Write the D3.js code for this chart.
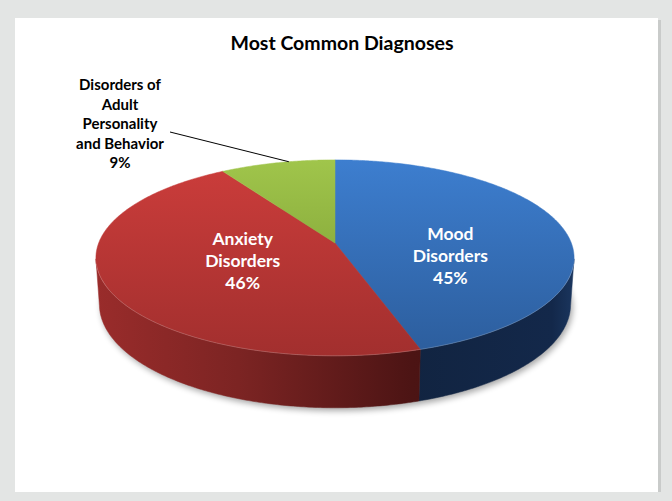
<!DOCTYPE html>
<html>
<head>
<meta charset="utf-8">
<script src="https://cdn.jsdelivr.net/npm/d3@7/dist/d3.min.js"></script>
<style>
  html, body { margin: 0; padding: 0; background: #e3e5e4; }
  svg { display: block; }
  text { font-family: Lato, "Open Sans", sans-serif; font-weight: bold; }
</style>
</head>
<body>
<svg id="chart" width="672" height="501"></svg>
<script>
// ---- data ----
const chartTitle = "Most Common Diagnoses";
const categories = ["Mood Disorders", "Anxiety Disorders", "Disorders of Adult Personality and Behavior"];
const values = [45, 46, 9];
const labelLines = [["Mood", "Disorders"], ["Anxiety", "Disorders"], ["Disorders of", "Adult", "Personality", "and Behavior"]];

// ---- styles ----
const topColors = [["#3d7ecf", "#2c5d9c"], ["#cc3d3b", "#a22f2e"], ["#a0c54b", "#74952f"]];
const sideColors = [
  [[0, "#173055"], [0.6, "#11233f"], [0.95, "#13284a"], [1, "#1b3760"]],
  [[0, "#9a2c2b"], [0.3, "#7c2423"], [0.66, "#4c1414"], [1, "#3e1010"]],
  [[0, "#6f8c2c"], [0.6, "#55701f"], [1, "#45601a"]]
];

// ---- layout ----
const W = 672, H = 501;
const panel = { x: 15, y: 18, w: 643, h: 474 };
// perspective camera for the disc (unit radius)
const cam = { cx: 335, cy: 243, f: 1425, dist: 6.03, tilt: 0.417, thick: 0.215 };
const cosT = Math.cos(cam.tilt), sinT = Math.sin(cam.tilt);

function project(x, h, z) {
  const v = z * sinT - h * cosT;
  const d = cam.dist - (z * cosT + h * sinT);
  return [cam.cx + cam.f * x / d, cam.cy + cam.f * v / d];
}
// angle measured clockwise from 12 o'clock (far side)
function rim(a, r, h) { return project(r * Math.sin(a), h, -r * Math.cos(a)); }
function arcPts(a0, a1, r, h) {
  const n = Math.max(2, Math.ceil(Math.abs(a1 - a0) / 0.01));
  return d3.range(n + 1).map(i => rim(a0 + (a1 - a0) * i / n, r, h));
}

const svg = d3.select("#chart");
const defs = svg.append("defs");

svg.append("rect").attr("width", W).attr("height", H).attr("fill", "#e3e5e4");
svg.append("rect").attr("x", panel.x + panel.w).attr("y", panel.y + 2).attr("width", 3).attr("height", panel.h - 2)
  .attr("fill", "#c9cbca");
svg.append("rect").attr("x", panel.x).attr("y", panel.y).attr("width", panel.w).attr("height", panel.h).attr("fill", "#ffffff");

svg.append("text").attr("x", 342).attr("y", 50).attr("text-anchor", "middle")
  .attr("font-size", 19.5).attr("fill", "#000").text(chartTitle);

const arcs = d3.pie().value(d => d).sort(null)(values);
const line = d3.line();

// soft shadow under the disc
const blur = defs.append("filter").attr("id", "shadow").attr("x", "-20%").attr("y", "-20%").attr("width", "140%").attr("height", "140%");
blur.append("feGaussianBlur").attr("stdDeviation", 3);
svg.append("path")
  .attr("d", line(arcPts(0, 2 * Math.PI, 1, -cam.thick)) + "Z")
  .attr("transform", "translate(2,3)")
  .attr("fill", "#000").attr("opacity", 0.35).attr("filter", "url(#shadow)");

// visible part of the outer wall faces the camera
const edge = Math.acos(-1 / (cam.dist * cosT));
const vis0 = edge - 0.02, vis1 = 2 * Math.PI - edge + 0.02;

const pTop = rim(0, 1, 0)[1], pBot = rim(Math.PI, 1, 0)[1];
const pL = rim(1.5 * Math.PI, 1.02, 0)[0], pR = rim(0.5 * Math.PI, 1.02, 0)[0];

arcs.forEach((a, i) => {
  const tg = defs.append("linearGradient").attr("id", "top" + i).attr("gradientUnits", "userSpaceOnUse")
    .attr("x1", 0).attr("y1", pTop).attr("x2", 0).attr("y2", pBot);
  tg.append("stop").attr("offset", 0).attr("stop-color", topColors[i][0]);
  tg.append("stop").attr("offset", 1).attr("stop-color", topColors[i][1]);
  const sg = defs.append("linearGradient").attr("id", "side" + i).attr("gradientUnits", "userSpaceOnUse")
    .attr("x1", pL).attr("y1", 0).attr("x2", pR).attr("y2", 0);
  sideColors[i].forEach(([o, c]) => sg.append("stop").attr("offset", o).attr("stop-color", c));
});

const sides = svg.append("g");
const tops = svg.append("g");
arcs.forEach((a, i) => {
  const s0 = Math.max(a.startAngle, vis0), s1 = Math.min(a.endAngle, vis1);
  if (s1 > s0) {
    const pts = arcPts(s0, s1, 1, 0).concat(arcPts(s1, s0, 1, -cam.thick));
    sides.append("path").attr("d", line(pts) + "Z").attr("fill", `url(#side${i})`)
      .attr("stroke", `url(#side${i})`).attr("stroke-width", 0.5);
  }
  const tp = [project(0, 0, 0)].concat(arcPts(a.startAngle, a.endAngle, 1, 0));
  tops.append("path").attr("d", line(tp) + "Z").attr("fill", `url(#top${i})`)
    .attr("stroke", `url(#top${i})`).attr("stroke-width", 0.5);
});
// faint highlight along the front rim
svg.append("path").attr("d", line(arcPts(vis0 + 0.05, vis1 - 0.05, 1, 0)))
  .attr("fill", "none").attr("stroke", "#ffffff").attr("stroke-opacity", 0.18).attr("stroke-width", 1);

// inside labels
const inside = [{ i: 0, r: 0.5, dy: 20 }, { i: 1, r: 0.42, dy: 0 }];
inside.forEach(o => {
  const a = arcs[o.i];
  const mid = (a.startAngle + a.endAngle) / 2;
  const [x, y] = rim(mid, o.r, 0);
  const lines = labelLines[o.i].concat([values[o.i] + "%"]);
  const t = svg.append("text").attr("text-anchor", "middle").attr("font-size", 17.5).attr("fill", "#fff");
  lines.forEach((s, k) => {
    t.append("tspan").attr("x", x).attr("y", y + o.dy + 6 + (k - (lines.length - 1) / 2) * 22).text(s);
  });
});

// outside label with leader
{
  const a = arcs[2];
  const end = rim(a.startAngle + 0.6 * (a.endAngle - a.startAngle), 1, 0);
  const lx = 120, ly0 = 90;
  svg.append("line").attr("x1", 170).attr("y1", 132).attr("x2", end[0]).attr("y2", end[1])
    .attr("stroke", "#000").attr("stroke-width", 1);
  const lines = labelLines[2].concat([values[2] + "%"]);
  const t = svg.append("text").attr("text-anchor", "middle").attr("font-size", 15).attr("fill", "#000");
  lines.forEach((s, k) => t.append("tspan").attr("x", lx).attr("y", ly0 + k * 19.5).text(s));
}
</script>
</body>
</html>
